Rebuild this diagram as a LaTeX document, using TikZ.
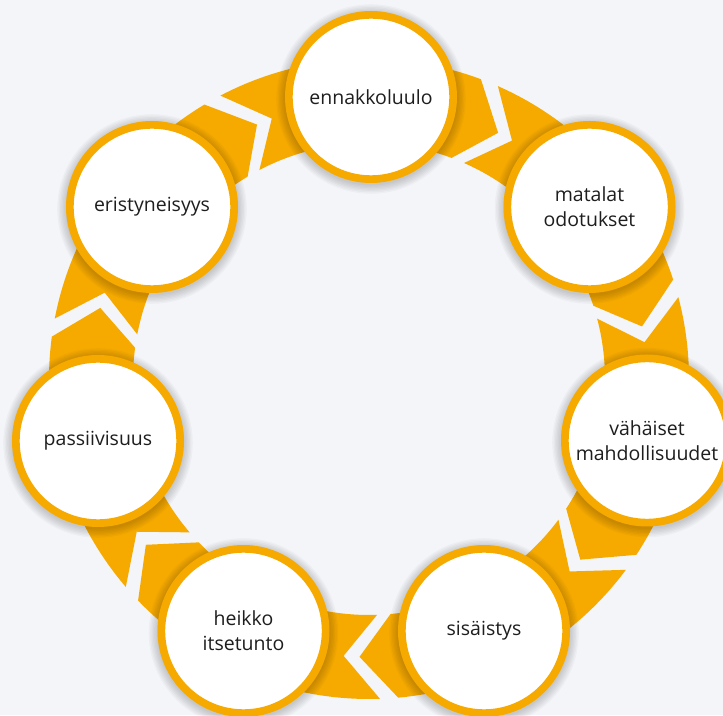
\documentclass[tikz,border=0pt]{standalone}
\usepackage{fontspec}
\setmainfont{Open Sans}
\definecolor{bg}{HTML}{F3F5F9}
\definecolor{gold}{HTML}{F6AA00}
\definecolor{ink}{HTML}{1E1E1E}
\begin{document}
\begin{tikzpicture}[x=1pt,y=1pt,
  stage/.style={circle, draw=gold, line width=7.7pt, fill=white,
    minimum size=164.3pt, inner sep=0pt, align=center, text=ink,
    font=\fontsize{19.5}{25}\selectfont},
  band/.style={fill=gold},
  shade/.style={fill=black, opacity=0.028}]
\useasboundingbox (0,0) rectangle (723,715);
\fill[bg] (0,0) rectangle (723,715);
% ring of chevron arrows
\begin{scope}[shift={(369,336)}]
\foreach \t in {90, 38.571, -12.857, -64.286, -115.714, -167.143, -218.571} {
  \pgfmathsetmacro\aO{\t+25.714+3.6-1.64}
  \pgfmathsetmacro\aN{\t+25.714-3.6-1.64}
  \pgfmathsetmacro\bO{\t-25.714+3.6+1.64}
  \pgfmathsetmacro\bP{\t-25.714-3.6+1.64}
  \fill[band] (\aO:320pt) arc[start angle=\aO, end angle=\bO, radius=320pt]
     -- (\bP:278pt) -- (\bO:236pt)
     arc[start angle=\bO, end angle=\aO, radius=236pt]
     -- (\aN:278pt) -- cycle;
}
\end{scope}
% positions
\coordinate (p1) at (371,618);
\coordinate (p2) at (589.5,508);
\coordinate (p3) at (647,274.5);
\coordinate (p4) at (484,84);
\coordinate (p5) at (243.5,84);
\coordinate (p6) at (98,274);
\coordinate (p7) at (152,508);
% soft shadows
\foreach \p in {p1,p2,p3,p4,p5,p6,p7} {
  \foreach \k in {1,...,7} {
    \pgfmathsetmacro\rr{85+\k*1.4}
    \fill[shade] ([yshift=-2pt]\p) circle[radius=\rr pt];
  }
}
% stages
\node[stage] (n1) at (p1) {ennakkoluulo};
\node[stage] (n2) at (p2) {matalat\\odotukset};
\node[stage] (n3) at (p3) {vähäiset\\mahdollisuudet};
\node[stage] (n4) at (p4) {sisäistys};
\node[stage] (n5) at (p5) {heikko\\itsetunto};
\node[stage] (n6) at (p6) {passiivisuus};
\node[stage] (n7) at (p7) {eristyneisyys};
\end{tikzpicture}
\end{document}
